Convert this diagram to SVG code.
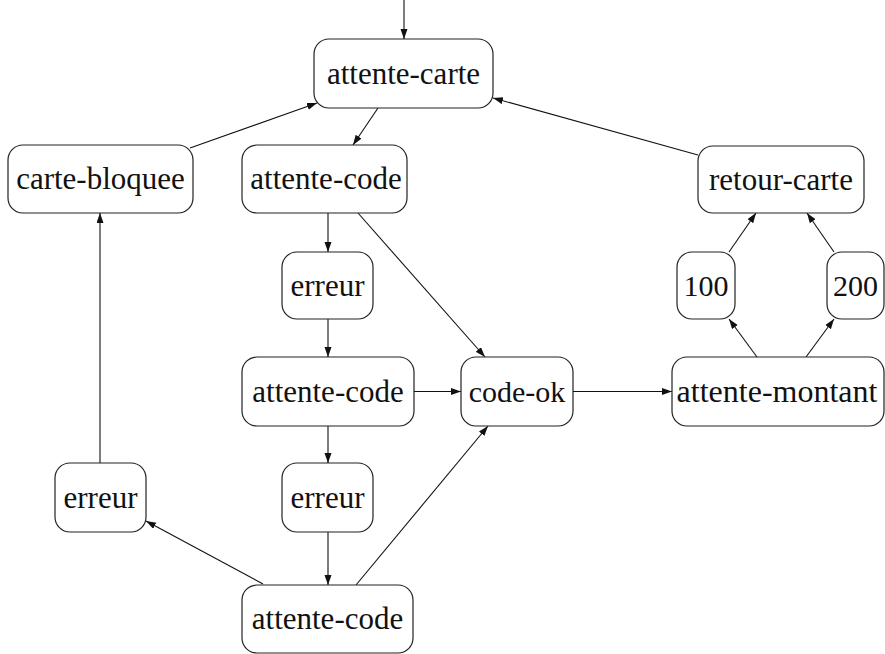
<svg xmlns="http://www.w3.org/2000/svg" width="885" height="654" viewBox="0 0 885 654">
<style>
.n rect{fill:#fff;stroke:#222;stroke-width:1.2}
#edges line{stroke:#111;stroke-width:1.1;marker-end:url(#ah)}
</style>
<defs>
<marker id="ah" markerUnits="userSpaceOnUse" markerWidth="11" markerHeight="8" refX="10" refY="3.5" orient="auto">
<path d="M0,0 L10,3.5 L0,7 z" fill="#111"/>
</marker>
</defs>
<g id="edges">
<line x1="404" y1="0" x2="404" y2="39"/>
<line x1="190" y1="148" x2="317" y2="103"/>
<line x1="378" y1="108" x2="353" y2="145"/>
<line x1="698" y1="155" x2="493" y2="98"/>
<line x1="328" y1="213" x2="328" y2="252"/>
<line x1="358" y1="213" x2="485" y2="357"/>
<line x1="328" y1="319" x2="328" y2="357"/>
<line x1="414" y1="391.5" x2="461" y2="391.5"/>
<line x1="328" y1="426" x2="328" y2="463"/>
<line x1="328" y1="532" x2="328" y2="585"/>
<line x1="356" y1="585" x2="488" y2="426"/>
<line x1="263" y1="584" x2="146" y2="521"/>
<line x1="100" y1="463" x2="100" y2="213"/>
<line x1="573" y1="391.5" x2="672" y2="391.5"/>
<line x1="757" y1="357" x2="729" y2="319"/>
<line x1="806" y1="357" x2="834" y2="319"/>
<line x1="729" y1="252" x2="756" y2="213"/>
<line x1="834" y1="252" x2="807" y2="213"/>
</g>
<g id="attente-carte" class="n"><rect x="314" y="39" width="179" height="69" rx="15"/><text x="403.5" y="83.5" font-family="Liberation Serif, serif" font-size="31" text-anchor="middle" fill="#111">attente-carte</text></g>
<g id="carte-bloquee" class="n"><rect x="8" y="145" width="185" height="68" rx="15"/><text x="100.5" y="189" font-family="Liberation Serif, serif" font-size="31" text-anchor="middle" fill="#111">carte-bloquee</text></g>
<g id="attente-code-1" class="n"><rect x="242" y="145" width="165" height="68" rx="15"/><text x="326" y="189" font-family="Liberation Serif, serif" font-size="31" text-anchor="middle" fill="#111">attente-code</text></g>
<g id="retour-carte" class="n"><rect x="698" y="146" width="166" height="67" rx="15"/><text x="781" y="189.5" font-family="Liberation Serif, serif" font-size="31" text-anchor="middle" fill="#111">retour-carte</text></g>
<g id="erreur-1" class="n"><rect x="282" y="252" width="91" height="67" rx="15"/><text x="327.5" y="295.5" font-family="Liberation Serif, serif" font-size="31" text-anchor="middle" fill="#111">erreur</text></g>
<g id="n100" class="n"><rect x="677" y="252" width="58" height="67" rx="15"/><text x="706" y="295.5" font-family="Liberation Serif, serif" font-size="30" text-anchor="middle" fill="#111">100</text></g>
<g id="n200" class="n"><rect x="827" y="252" width="57" height="67" rx="15"/><text x="855.5" y="295.5" font-family="Liberation Serif, serif" font-size="30" text-anchor="middle" fill="#111">200</text></g>
<g id="attente-code-2" class="n"><rect x="242" y="357" width="172" height="69" rx="15"/><text x="328" y="401.5" font-family="Liberation Serif, serif" font-size="31" text-anchor="middle" fill="#111">attente-code</text></g>
<g id="code-ok" class="n"><rect x="461" y="357" width="112" height="69" rx="15"/><text x="517" y="401.5" font-family="Liberation Serif, serif" font-size="30" text-anchor="middle" fill="#111">code-ok</text></g>
<g id="attente-montant" class="n"><rect x="672" y="357" width="212" height="69" rx="15"/><text x="777" y="401.5" font-family="Liberation Serif, serif" font-size="32" text-anchor="middle" fill="#111">attente-montant</text></g>
<g id="erreur-left" class="n"><rect x="55" y="463" width="91" height="69" rx="15"/><text x="100.5" y="507.5" font-family="Liberation Serif, serif" font-size="31" text-anchor="middle" fill="#111">erreur</text></g>
<g id="erreur-2" class="n"><rect x="282" y="463" width="91" height="69" rx="15"/><text x="327.5" y="507.5" font-family="Liberation Serif, serif" font-size="31" text-anchor="middle" fill="#111">erreur</text></g>
<g id="attente-code-3" class="n"><rect x="242" y="585" width="171" height="68" rx="15"/><text x="327.5" y="629" font-family="Liberation Serif, serif" font-size="31" text-anchor="middle" fill="#111">attente-code</text></g>
</svg>
